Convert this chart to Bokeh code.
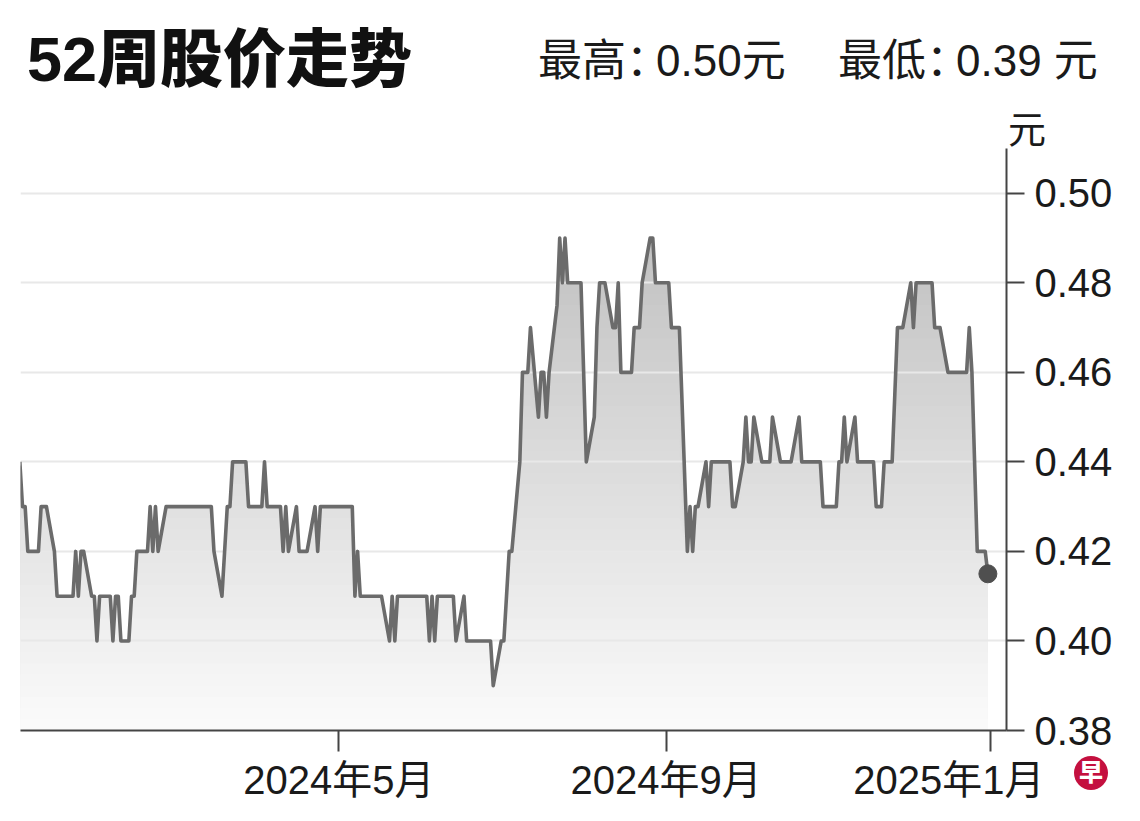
import numpy as np
import pandas as pd
from bokeh.plotting import figure
from bokeh.layouts import column
from bokeh.models import Range1d, FixedTicker, NumeralTickFormatter, Div
from bokeh.embed import file_html
from bokeh.resources import INLINE

# ---- data: daily closing price (SGD) over 52 weeks, trading days from 2024-01-02 ----
price = [
    0.44, 0.43, 0.43, 0.42, 0.42, 0.42, 0.43, 0.43, 0.43, 0.42,
    0.41, 0.41, 0.41, 0.41, 0.41, 0.42, 0.41, 0.42, 0.42, 0.41,
    0.41, 0.40, 0.41, 0.41, 0.41, 0.40, 0.41, 0.41, 0.40, 0.40,
    0.41, 0.41, 0.42, 0.42, 0.42, 0.43, 0.42, 0.43, 0.42, 0.43,
    0.43, 0.43, 0.43, 0.43, 0.43, 0.43, 0.43, 0.43, 0.43, 0.43,
    0.43, 0.43, 0.43, 0.42, 0.41, 0.42, 0.43, 0.43, 0.44, 0.44,
    0.44, 0.44, 0.43, 0.43, 0.43, 0.43, 0.44, 0.43, 0.43, 0.43,
    0.43, 0.42, 0.43, 0.42, 0.43, 0.42, 0.42, 0.42, 0.42, 0.43,
    0.42, 0.43, 0.43, 0.43, 0.43, 0.43, 0.43, 0.43, 0.43, 0.43,
    0.41, 0.42, 0.41, 0.41, 0.41, 0.41, 0.41, 0.41, 0.41, 0.40,
    0.41, 0.40, 0.41, 0.41, 0.41, 0.41, 0.41, 0.41, 0.41, 0.41,
    0.40, 0.41, 0.40, 0.41, 0.41, 0.41, 0.41, 0.41, 0.40, 0.41,
    0.40, 0.40, 0.40, 0.40, 0.40, 0.40, 0.40, 0.40, 0.39, 0.40,
    0.40, 0.41, 0.42, 0.42, 0.44, 0.46, 0.46, 0.46, 0.47, 0.45,
    0.46, 0.46, 0.45, 0.46, 0.475, 0.49, 0.48, 0.49, 0.48, 0.48,
    0.48, 0.48, 0.46, 0.44, 0.45, 0.47, 0.48, 0.48, 0.48, 0.47,
    0.47, 0.48, 0.46, 0.46, 0.46, 0.47, 0.47, 0.47, 0.48, 0.49,
    0.49, 0.48, 0.48, 0.48, 0.48, 0.47, 0.47, 0.47, 0.47, 0.42,
    0.43, 0.42, 0.43, 0.43, 0.44, 0.43, 0.44, 0.44, 0.44, 0.44,
    0.44, 0.44, 0.43, 0.43, 0.44, 0.45, 0.44, 0.44, 0.45, 0.44,
    0.44, 0.44, 0.44, 0.45, 0.44, 0.44, 0.44, 0.44, 0.44, 0.45,
    0.44, 0.44, 0.44, 0.44, 0.44, 0.44, 0.43, 0.43, 0.43, 0.43,
    0.44, 0.44, 0.45, 0.44, 0.45, 0.44, 0.44, 0.44, 0.44, 0.44,
    0.43, 0.43, 0.43, 0.44, 0.44, 0.455, 0.47, 0.47, 0.47, 0.48,
    0.47, 0.48, 0.48, 0.48, 0.48, 0.48, 0.47, 0.47, 0.47, 0.46,
    0.46, 0.46, 0.46, 0.46, 0.46, 0.47, 0.46, 0.44, 0.42, 0.42,
    0.415,
]
first_trading_day = "2024-01-02"
dates = pd.bdate_range(first_trading_day, periods=len(price))

y_ticks = [0.38, 0.40, 0.42, 0.44, 0.46, 0.48, 0.50]
x_tick_dates = ["2024-05-01", "2024-09-01", "2025-01-01"]
x_tick_labels = ["2024年5月", "2024年9月", "2025年1月"]
title_text = "52周股价走势"
high_text = "最高：0.50元"
low_text = "最低：0.39 元"
unit_text = "元"
logo_text = "早"

FONT = "Liberation Sans, Noto Sans CJK SC"
CSS_FONT = "'Liberation Sans','Noto Sans CJK SC',sans-serif"
TXT = "#1a1a1a"
W = 1124
HEAD_H = 148

# ---- header (HTML text, absolutely positioned) ----
def colon_tight(s):
    return s.replace("：", "<span style='letter-spacing:-14px'>：</span>")

span = ("position:absolute;left:{x}px;top:{y}px;transform:translateY(-50%);"
        "line-height:1;white-space:nowrap;font-size:{fs}px;")
html = (
    f"<div style=\"position:relative;width:{W}px;height:{HEAD_H}px;margin:0;padding:0;"
    f"font-family:{CSS_FONT};color:{TXT};\">"
    f"<span style=\"{span.format(x=27, y=59, fs=63)}font-weight:900;color:#111;\">{title_text}</span>"
    f"<span style=\"{span.format(x=538, y=61, fs=44)}\">{colon_tight(high_text)}</span>"
    f"<span style=\"{span.format(x=838, y=61, fs=44)}\">{colon_tight(low_text)}</span>"
    f"<span style=\"{span.format(x=1008, y=130, fs=38)}\">{unit_text}</span>"
    f"<span style=\"position:absolute;left:1074px;top:756px;width:34px;height:34px;"
    f"border-radius:50%;background:#c4103f;color:#fff;font-weight:900;font-size:24px;"
    f"line-height:34px;text-align:center;z-index:20;\">{logo_text}</span>"
    f"</div>"
)
head = Div(text=html, width=W, height=HEAD_H, margin=(0, 0, 0, 0),
           styles={"overflow": "visible", "position": "relative", "z-index": "10"})

# ---- main chart ----
p = figure(
    frame_width=986, frame_height=582,
    x_axis_type="datetime", y_axis_location="right",
    x_range=Range1d(pd.Timestamp("2024-01-02 06:00"), pd.Timestamp("2025-01-07 00:00")),
    y_range=Range1d(0.38, 0.51),
    output_backend="svg", toolbar_location=None,
    min_border_left=20, min_border_right=118, min_border_top=0, min_border_bottom=75,
    margin=(0, 0, 0, 0),
)
p.outline_line_color = None
p.background_fill_color = "white"
p.border_fill_color = "white"

# gradient area under the line (stacked bands, darker at the top)
price_arr = np.array(price)
nb = 48
y0, y1 = 0.38, 0.50
h = (y1 - y0) / nb
for k in range(nb - 1, -1, -1):
    hi = y0 + (k + 1) * h
    if k == nb - 1:
        hi = 0.52
    t = (k + 0.5) / nb  # 0 bottom .. 1 top
    g = int(round(251 - t * 63))
    col = "#%02x%02x%02x" % (g, g, g)
    p.varea(x=dates, y1=y0, y2=np.minimum(price_arr, hi), fill_color=col,
            fill_alpha=1.0, level="image")

# price line and last point
p.line(dates, price, line_color="#6b6b6b", line_width=3.6, line_join="round")
p.scatter(dates[-1:], price[-1:], size=18, fill_color="#4f4f4f", line_color="#4f4f4f")

# grid
p.xgrid.grid_line_color = None
p.ygrid.ticker = FixedTicker(ticks=y_ticks)
p.ygrid.grid_line_color = "#e8e8e8"
p.ygrid.grid_line_width = 2

# x axis (last label pushed left of its tick, as in the original layout)
x_ms = [float(pd.Timestamp(d).value // 10**6) for d in x_tick_dates]
shown_labels = list(x_tick_labels)
shown_labels[-1] = shown_labels[-1] + "\u2003\u2003"
xa = p.xaxis[0]
xa.ticker = FixedTicker(ticks=x_ms)
xa.major_label_overrides = dict(zip(x_ms, shown_labels))
xa.axis_line_color = "#444444"
xa.axis_line_width = 2
xa.major_tick_line_color = "#444444"
xa.major_tick_line_width = 2
xa.major_tick_out = 21
xa.major_tick_in = 0
xa.minor_tick_line_color = None
xa.major_label_standoff = 6
xa.major_label_text_font = FONT
xa.major_label_text_font_size = "40px"
xa.major_label_text_color = TXT

# y axis (right)
ya = p.yaxis[0]
ya.ticker = FixedTicker(ticks=y_ticks)
ya.formatter = NumeralTickFormatter(format="0.00")
ya.axis_line_color = "#444444"
ya.axis_line_width = 2
ya.major_tick_line_color = "#444444"
ya.major_tick_line_width = 2
ya.major_tick_out = 18
ya.major_tick_in = 0
ya.minor_tick_line_color = None
ya.major_label_standoff = 10
ya.major_label_text_font = FONT
ya.major_label_text_font_size = "40px"
ya.major_label_text_color = TXT

layout = column(head, p)
open("out.html", "w").write(file_html(layout, INLINE))
